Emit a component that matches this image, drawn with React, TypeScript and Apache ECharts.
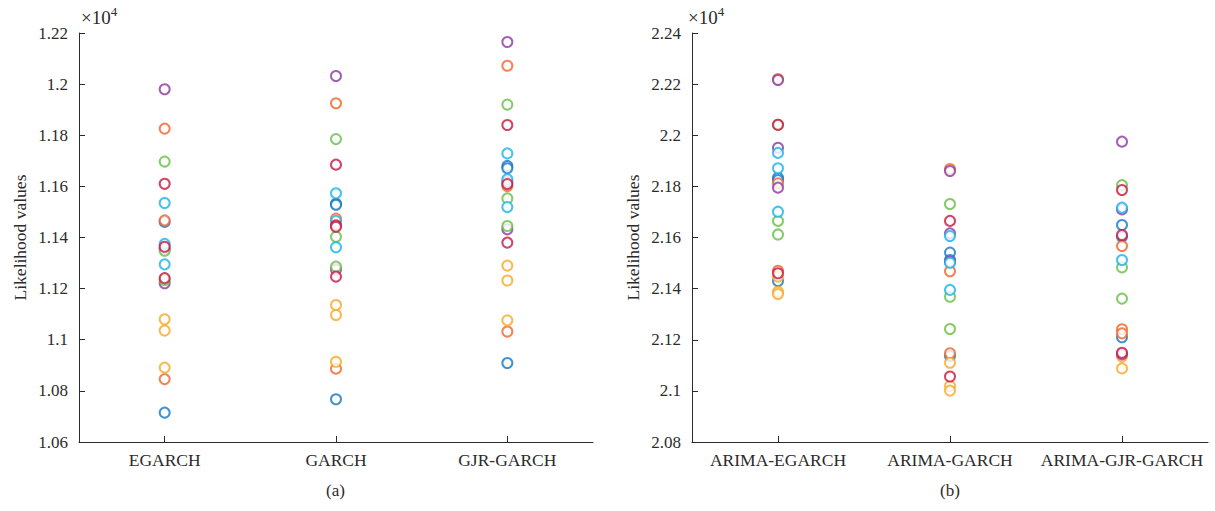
import React, { useEffect, useRef } from "react";
import * as echarts from "echarts";

const catsA = ["EGARCH", "GARCH", "GJR-GARCH"];
const catsB = ["ARIMA-EGARCH", "ARIMA-GARCH", "ARIMA-GJR-GARCH"];

const colorNames = ["blue", "orange", "yellow", "purple", "green", "cyan", "crimson"];
const colorValues = ["#1376c6", "#f2632a", "#f9a825", "#8a3a9e", "#66be45", "#17b4ea", "#c8143c"];

// Panel (a): per colour, values for [EGARCH, GARCH, GJR-GARCH] (×10^4)
const aBlue = [[1.1461, 1.0715], [1.1532, 1.1528, 1.0767], [1.168, 1.1671, 1.0909]];
const aOrange = [[1.1826, 1.1467, 1.0846], [1.1925, 1.1474, 1.0887], [1.2072, 1.1601, 1.1032]];
const aYellow = [[1.108, 1.1036, 1.0891], [1.1136, 1.1097, 1.0914], [1.129, 1.1232, 1.1076]];
const aPurple = [[1.198, 1.1356, 1.1221], [1.2032, 1.1275], [1.2165, 1.1617, 1.1432]];
const aGreen = [[1.1697, 1.1348, 1.1234], [1.1785, 1.1403, 1.1286], [1.192, 1.1553, 1.1445]];
const aCyan = [[1.1535, 1.1375, 1.1295], [1.1573, 1.1465, 1.1362], [1.1729, 1.1628, 1.1519]];
const aCrimson = [[1.161, 1.1364, 1.1241], [1.1685, 1.1448, 1.1442, 1.1247], [1.184, 1.1609, 1.138]];

// Panel (b): per colour, values for [ARIMA-EGARCH, ARIMA-GARCH, ARIMA-GJR-GARCH] (×10^4)
const bBlue = [[2.1834, 2.1825, 2.143], [2.1541, 2.1512, 2.1136], [2.1649, 2.1603, 2.121]];
const bOrange = [[2.222, 2.1812, 2.147], [2.1868, 2.1468, 2.1147], [2.1567, 2.1241, 2.1225]];
const bYellow = [[2.1447, 2.1388, 2.1379], [2.111, 2.1019, 2.1001], [2.1134, 2.1088]];
const bPurple = [[2.2216, 2.1951, 2.1795], [2.186, 2.1616, 2.1505], [2.1975, 2.171, 2.1143]];
const bGreen = [[2.2041, 2.1665, 2.1612], [2.1731, 2.1368, 2.1242], [2.1805, 2.1483, 2.1361]];
const bCyan = [[2.1931, 2.1871, 2.1701], [2.1606, 2.1501, 2.1395], [2.1717, 2.1512]];
const bCrimson = [[2.2041, 2.146], [2.1665, 2.1056], [2.1786, 2.161, 2.1149]];

const yTicksA = { min: 1.06, max: 1.22, interval: 0.02 };
const yTicksB = { min: 2.08, max: 2.24, interval: 0.02 };

const panelA = [aBlue, aOrange, aYellow, aPurple, aGreen, aCyan, aCrimson];
const panelB = [bBlue, bOrange, bYellow, bPurple, bGreen, bCyan, bCrimson];

const FONT = "Liberation Serif";
const TXT = "#2b2b2b";

function toPoints(groups: number[][]) {
  const pts: number[][] = [];
  groups.forEach((vals, ci) => vals.forEach((v) => pts.push([ci, v])));
  return pts;
}

export default function App() {
  const ref = useRef<HTMLDivElement>(null);
  useEffect(() => {
    if (!ref.current) return;
    const chart = echarts.init(ref.current, null, { renderer: "svg" });

    const mkX = (idx: number, cats: string[]) => ({
      type: "category",
      gridIndex: idx,
      data: cats,
      boundaryGap: true,
      axisLine: { show: true, lineStyle: { color: TXT, width: 1 } },
      axisTick: { show: true, inside: true, alignWithLabel: true, interval: 0, length: 6, lineStyle: { color: TXT } },
      axisLabel: { color: TXT, fontFamily: FONT, fontSize: 17.5, margin: 9, interval: 0 },
      splitLine: { show: false },
    });
    const mkY = (idx: number, t: { min: number; max: number; interval: number }) => ({
      type: "value",
      gridIndex: idx,
      min: t.min,
      max: t.max,
      interval: t.interval,
      name: "Likelihood values",
      nameLocation: "middle",
      nameGap: 50,
      nameTextStyle: { color: TXT, fontFamily: FONT, fontSize: 17.5 },
      axisLine: { show: true, lineStyle: { color: TXT, width: 1 } },
      axisTick: { show: true, inside: true, length: 6, lineStyle: { color: TXT } },
      axisLabel: {
        color: TXT,
        fontFamily: FONT,
        fontSize: 17,
        margin: 11,
        formatter: (v: number) => String(parseFloat(v.toFixed(2))),
      },
      splitLine: { show: false },
    });

    const series: any[] = [];
    [panelA, panelB].forEach((panel, pi) => {
      panel.forEach((groups, ci) => {
        series.push({
          type: "scatter",
          name: colorNames[ci] + (pi === 0 ? "-a" : "-b"),
          xAxisIndex: pi,
          yAxisIndex: pi,
          symbol: "emptyCircle",
          symbolSize: 10,
          itemStyle: { color: colorValues[ci], borderColor: colorValues[ci], borderWidth: 1.4 },
          data: toPoints(groups),
        });
      });
    });

    const expTitle = (x: number) => ({
      text: "{m|×10}{s|4}",
      left: x,
      top: 5,
      padding: 0,
      textStyle: {
        color: TXT,
        fontFamily: FONT,
        fontSize: 19,
        fontWeight: "normal",
        rich: {
          m: { fontSize: 19, fontFamily: FONT, color: TXT, verticalAlign: "bottom", lineHeight: 22 },
          s: { fontSize: 13, fontFamily: FONT, color: TXT, verticalAlign: "top", lineHeight: 22, padding: [0, 0, 10, 0] },
        },
      },
    });
    const panelTitle = (text: string, cx: number) => ({
      text,
      left: cx - 10,
      top: 482,
      padding: 0,
      textStyle: { color: TXT, fontFamily: FONT, fontSize: 17, fontWeight: "normal" },
    });

    chart.setOption({
      animation: false,
      backgroundColor: "#fff",
      title: [expTitle(81), expTitle(688), panelTitle("(a)", 336), panelTitle("(b)", 950)],
      grid: [
        { left: 79, top: 33, width: 514, height: 409, containLabel: false },
        { left: 692, top: 33, width: 516, height: 409, containLabel: false },
      ],
      xAxis: [mkX(0, catsA), mkX(1, catsB)],
      yAxis: [mkY(0, yTicksA), mkY(1, yTicksB)],
      series,
    });
    return () => chart.dispose();
  }, []);
  return (
    <div
      ref={ref}
      style={{ position: "absolute", left: 0, top: 0, width: 1215, height: 511 }}
    />
  );
}
